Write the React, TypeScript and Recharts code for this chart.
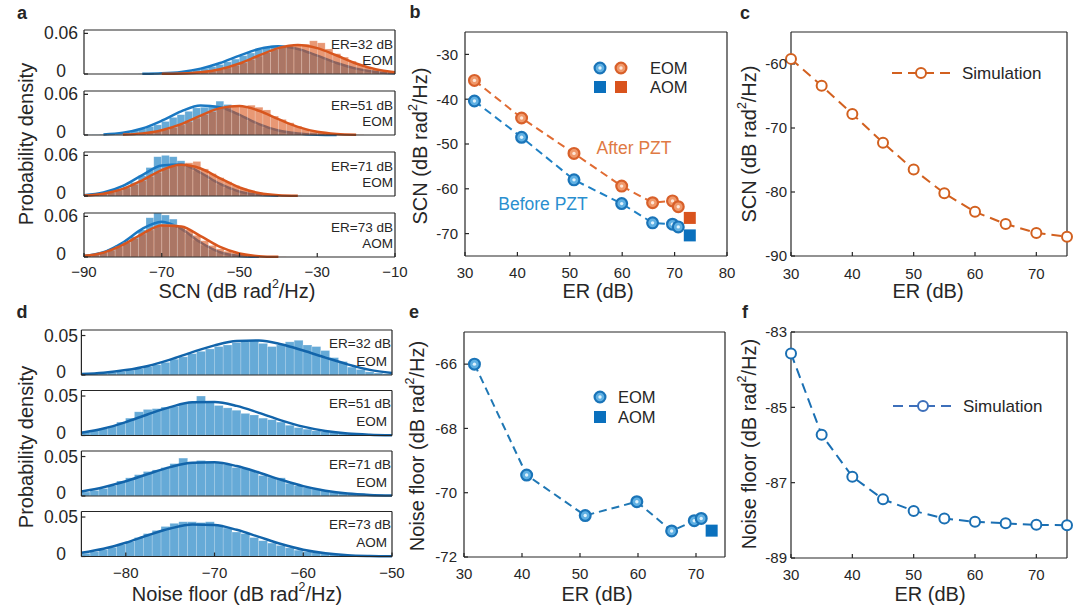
import React from "react";
import { Bar, ComposedChart, Line, Scatter, XAxis, YAxis } from "recharts";

const W = 1080;
const H = 616;
const FONT = "'Liberation Sans', Arial, Helvetica, sans-serif";
const INK = "#262626";
const BLUE = "#0072BD";
const ORANGE = "#D95319";

// ---- a: SCN histograms, probability density in units of 1e-3, 2 dB bins
const scnBins = [-89, -87, -85, -83, -81, -79, -77, -75, -73, -71, -69, -67, -65, -63, -61, -59, -57, -55, -53, -51, -49, -47, -45, -43, -41, -39, -37, -35, -33, -31, -29, -27, -25, -23, -21, -19, -17, -15, -13, -11];
const scnFitX = [-90, -85, -80, -75, -70, -65, -60, -55, -50, -45, -40, -35, -30, -25, -20, -15, -10];

const er32Before = [0, 0, 0, 0, 0, 0.1, 0.1, 0.3, 0.8, 1.2, 1.3, 2, 3, 4.4, 6, 8.5, 11, 14, 18, 22, 27, 31, 36, 40, 42, 41, 39, 37, 33, 29, 25, 21, 16, 12, 9, 6.5, 4.5, 3, 2, 1.2];
const er32After = [0, 0, 0, 0, 0, 0, 0, 0, 0, 0.1, 0.2, 0.4, 0.8, 1.2, 2, 3.1, 4.5, 6.5, 9, 12.5, 16.5, 21.5, 26.5, 31.5, 36, 40, 43, 43.5, 44, 49, 46, 37, 30, 25, 19, 14, 10, 6.5, 4, 2.5];
const er51Before = [0.3, 0.5, 0.9, 1.6, 2.6, 4.2, 6.3, 9, 12.5, 15, 20, 26, 30, 35, 40, 41, 44, 50, 45, 33, 27, 21, 16, 11.5, 8, 5.3, 3.4, 2.1, 1.2, 0.7, 0.3, 0.15, 0, 0, 0, 0, 0, 0, 0, 0];
const er51After = [0, 0, 0.1, 0.3, 0.5, 0.9, 1.5, 2.4, 3.6, 5.5, 8, 11, 15, 19.5, 25, 30, 34.5, 39, 42, 43, 42.5, 44, 41, 37, 28, 23, 18, 13, 9, 6, 4, 2.5, 1.5, 0.9, 0.5, 0.3, 0, 0, 0, 0];
const er71Before = [1.7, 3, 5, 8, 11, 14, 20, 30, 42, 58, 60, 58, 52, 43, 37, 31, 24, 17.5, 12.5, 8, 5, 3, 1.7, 0.9, 0.4, 0.2, 0, 0, 0, 0, 0, 0, 0, 0, 0, 0, 0, 0, 0, 0];
const er71After = [1.2, 2, 3.4, 5.5, 8.5, 12, 17, 22.5, 29, 35, 40, 44, 46, 49, 51, 40, 33, 27, 21, 15.5, 11, 7.5, 5, 3, 2, 1.5, 1.2, 0.2, 0, 0, 0, 0, 0, 0, 0, 0, 0, 0, 0, 0];
const er73Before = [2.1, 3.8, 7, 11.5, 17, 22, 30, 40, 58, 65, 62, 56, 42, 34, 25, 17.5, 11.5, 7, 3.8, 2.1, 0.9, 0.4, 0.2, 0, 0, 0, 0, 0, 0, 0, 0, 0, 0, 0, 0, 0, 0, 0, 0, 0];
const er73After = [2.3, 3.9, 6.5, 10, 15, 21, 27, 34, 40, 45, 48, 48, 46, 40, 32, 24, 17, 12, 8.5, 6, 4, 2.5, 1.5, 1, 0.5, 0.2, 0, 0, 0, 0, 0, 0, 0, 0, 0, 0, 0, 0, 0, 0];

const er32BeforeFit = [null, null, null, 0.25, 1, 3.1, 7.9, 16.2, 27.2, 37, 41, 37, 27.2, 16.2, 7.9, 3.1, 1];
const er32AfterFit = [null, null, null, null, 0.2, 0.7, 2.5, 7, 15.5, 27.3, 38.2, 43, 38.2, 27.3, 15.5, 7, 2.5];
const er51BeforeFit = [null, 0.9, 3.4, 9.7, 21.1, 34.9, 43.4, 41.1, 29.6, 16.1, 6.6, 2.1, 0.5, 0.1, null, null, null];
const er51AfterFit = [null, null, 0.64, 2.4, 7.1, 16.1, 28.7, 39.7, 42.8, 35.9, 23.5, 12, 4.7, 1.5, 0.35, null, null];
const er71BeforeFit = [1.2, 5.1, 14.9, 30.9, 45.1, 46.6, 34.3, 17.8, 6.5, 1.7, 0.3, null, null, null, null, null, null];
const er71AfterFit = [0.8, 3.4, 10.5, 23.2, 38.2, 46, 40.6, 26.2, 12.6, 4.4, 1.1, 0.2, null, null, null, null, null];
const er73BeforeFit = [1.5, 7, 21.4, 41.6, 52, 41.6, 21.4, 7, 1.5, 0.2, null, null, null, null, null, null, null];
const er73AfterFit = [1.7, 6.5, 17.8, 34.3, 46.7, 45.1, 30.9, 14.9, 5.1, 1.2, 0.2, null, null, null, null, null, null];

// ---- d: noise floor histograms, 1 dB bins
const nfBins = [-84.5, -83.5, -82.5, -81.5, -80.5, -79.5, -78.5, -77.5, -76.5, -75.5, -74.5, -73.5, -72.5, -71.5, -70.5, -69.5, -68.5, -67.5, -66.5, -65.5, -64.5, -63.5, -62.5, -61.5, -60.5, -59.5, -58.5, -57.5, -56.5, -55.5, -54.5, -53.5, -52.5, -51.5, -50.5];
const nfFitX = [-85, -82.5, -80, -77.5, -75, -72.5, -70, -67.5, -65, -62.5, -60, -57.5, -55, -52.5, -50];

const nf32 = [1.1, 1.6, 2.3, 3.3, 4.5, 6.1, 8.1, 10.5, 13, 16, 20, 23, 27, 30, 33, 36, 38, 41, 42, 44, 40, 36, 38, 42, 44, 38, 36, 31, 22, 17, 10, 7, 4, 2.5, 1.5];
const nf51 = [5, 6.5, 9, 12, 17, 22, 30, 33, 34, 36, 37, 40, 42, 50, 42, 38, 35, 32, 28, 26, 22, 20, 17, 13, 10, 8, 6, 5, 4, 3.5, 2.5, 1.5, 1, 0.6, 0.4];
const nf71 = [5, 7, 9.5, 13, 19, 23, 27, 31, 33, 36, 41, 48, 43, 45, 44, 42, 40, 36, 35, 32, 26, 24, 23, 16, 13, 11, 9, 7, 5, 4, 3.5, 3, 2, 1.5, 1];
const nf73 = [4, 6, 8.5, 11.5, 15, 19, 24, 29, 33, 38, 42, 44, 44, 43, 44, 40, 36, 31, 29, 24, 20, 17, 14, 11, 8, 6, 5, 3.5, 3, 2.5, 1.5, 1, 0.6, 0.4, 0.2];

const nf32Fit = [1.2, 2.8, 6.2, 11.5, 19.5, 29, 37.5, 43, 43.6, 39, 31, 22, 13.5, 6.5, 2.5];
const nf51Fit = [3.6, 8.8, 17, 26.9, 35.9, 42, 42.5, 37.5, 28.7, 19.2, 11.2, 5.7, 2.5, 1, 0.3];
const nf71Fit = [5.8, 11.2, 18.7, 27.9, 36.6, 42.1, 42.6, 37.9, 29.7, 20.6, 12.5, 6.7, 3.1, 1.3, 0.5];
const nf73Fit = [4.7, 9.8, 17.4, 26.9, 35.4, 40.5, 39.9, 33.8, 24.9, 15.8, 8.6, 4.1, 1.6, 0.6, 0.2];

const erLabels = ["ER=32 dB", "ER=51 dB", "ER=71 dB", "ER=73 dB"];
const modLabels = ["EOM", "EOM", "EOM", "AOM"];

// ---- b: measured SCN vs ER
const erMeas = [31.8, 40.8, 50.8, 59.9, 65.8, 69.6, 70.7];
const scnBeforePzt = [-40.4, -48.5, -58.0, -63.3, -67.6, -67.9, -68.5];
const scnAfterPzt = [-35.8, -44.2, -52.1, -59.4, -63.1, -62.7, -64.0];
const erAom = [72.9];
const scnAomBefore = [-70.4];
const scnAomAfter = [-66.5];

// ---- e: measured noise floor vs ER
const erNoise = [31.8, 40.8, 50.9, 59.8, 65.8, 69.7, 70.9];
const noiseMeas = [-66.0, -69.45, -70.71, -70.28, -71.19, -70.87, -70.8];
const erNoiseAom = [72.7];
const noiseAom = [-71.18];

// ---- c, f: simulation
const erSim = [30, 35, 40, 45, 50, 55, 60, 65, 70, 75];
const scnSim = [-59.2, -63.4, -67.8, -72.3, -76.5, -80.2, -83.1, -85.0, -86.4, -87.0];
const noiseSim = [-83.57, -85.73, -86.84, -87.44, -87.75, -87.95, -88.04, -88.08, -88.12, -88.13];

const pts = (xs: number[], ys: (number | null)[]) => xs.map((x, i) => ({ x, y: ys[i] }));

const axisLine = { stroke: INK, strokeWidth: 1.2 };
const tickFont = { fontSize: 15, fill: INK, fontFamily: FONT };

type Box = { left: number; right: number; top: number; bottom: number };
// every axis is 1px thick, so the plot area lands exactly on the box
const marginOf = (b: Box) => ({ left: b.left - 1, right: W - b.right - 1, top: b.top - 1, bottom: H - b.bottom - 1 });
const minus = (v: number) => String(v).replace("-", "\u2212");

function frameAxes(o: {
  xDomain: [number, number];
  xTicks: number[];
  yDomain: [number, number];
  yTicks: number[];
  showX: boolean;
  xGap: number;
  yGap: number;
  xFmt?: (v: number) => string;
  yTick?: any;
  yKey?: string;
}) {
  return [
    <XAxis key="xb" xAxisId="x" type="number" dataKey="x" domain={o.xDomain} ticks={o.xTicks} interval={0} height={1}
      tickSize={-4} tickMargin={o.xGap} axisLine={axisLine} tickLine={axisLine} tick={o.showX ? tickFont : false}
      tickFormatter={o.xFmt} />,
    <XAxis key="xt" xAxisId="xt" orientation="top" type="number" domain={o.xDomain} allowDataOverflow ticks={o.xTicks}
      interval={0} height={1} tickSize={-4} axisLine={axisLine} tickLine={axisLine} tick={false} />,
    <YAxis key="yl" yAxisId="y" type="number" dataKey={o.yKey} domain={o.yDomain} ticks={o.yTicks} interval={0} width={1}
      tickSize={-4} tickMargin={o.yGap} axisLine={axisLine} tickLine={axisLine} tick={o.yTick ?? tickFont} />,
    <YAxis key="yr" yAxisId="yr" orientation="right" type="number" domain={o.yDomain} allowDataOverflow ticks={o.yTicks}
      interval={0} width={1} tickSize={-4} axisLine={axisLine} tickLine={axisLine} tick={false} />,
  ];
}

// full-width histogram bar centred on the bin
const binShape = (bw: number, fill: string, edge: number) => (s: any) =>
  s.height > 0 ? (
    <rect x={s.x + s.width / 2 - bw / 2} y={s.y} width={bw} height={s.height} fill={fill} fillOpacity={0.6}
      stroke="#ffffff" strokeOpacity={edge} strokeWidth={0.6} />
  ) : (
    <g />
  );

function HistPlot(p: {
  box: Box;
  xDomain: [number, number];
  xTicks: number[];
  showX: boolean;
  xGap: number;
  bins: number[];
  binWidth: number;
  yMax: number;
  yTop: number;
  before: number[];
  after?: number[];
  fitX: number[];
  beforeFit: (number | null)[];
  afterFit?: (number | null)[];
  beforeLine: string;
}) {
  const rows = p.bins.map((x, i) => ({ x, b: p.before[i], o: p.after ? p.after[i] : null }));
  const bw = ((p.box.right - p.box.left) / (p.xDomain[1] - p.xDomain[0])) * p.binWidth;
  const leftTick = (t: any) => (
    <text x={61} y={t.payload.value === 0 ? t.y - 3 : t.y} textAnchor="middle" dominantBaseline="central"
      fontSize={17.5} fill={INK} fontFamily={FONT}>
      {t.payload.value === 0 ? "0" : (t.payload.value / 1000).toFixed(2)}
    </text>
  );
  return (
    <div style={{ position: "absolute", left: 0, top: 0 }}>
      <ComposedChart width={W} height={H} data={rows} margin={marginOf(p.box)}>
        {frameAxes({
          xDomain: p.xDomain, xTicks: p.xTicks, yDomain: [0, p.yMax], yTicks: [0, p.yTop],
          showX: p.showX, xGap: p.xGap, yGap: 0, xFmt: minus, yTick: leftTick,
        })}
        <XAxis xAxisId="x2" type="number" dataKey="x" domain={p.xDomain} hide />
        <Bar xAxisId="x" yAxisId="y" dataKey="b" barSize={4} fill={BLUE} shape={binShape(bw, BLUE, 0.35)}
          isAnimationActive={false} zIndex={300} />
        <Line xAxisId="x" yAxisId="y" data={pts(p.fitX, p.beforeFit)} dataKey="y" type="monotone" stroke={p.beforeLine}
          strokeWidth={2.5} dot={false} isAnimationActive={false} zIndex={310} />
        {p.after && (
          <Bar xAxisId="x2" yAxisId="y" dataKey="o" barSize={4} fill={ORANGE} shape={binShape(bw, ORANGE, 0.3)}
            isAnimationActive={false} zIndex={320} />
        )}
        {p.afterFit && (
          <Line xAxisId="x" yAxisId="y" data={pts(p.fitX, p.afterFit)} dataKey="y" type="monotone" stroke="#D8561E"
            strokeWidth={2.5} dot={false} isAnimationActive={false} zIndex={400} />
        )}
      </ComposedChart>
    </div>
  );
}

function EomMarker({ cx, cy, ring, fill, glint }: { cx: number; cy: number; ring: string; fill: string; glint: string }) {
  return (
    <g>
      <circle cx={cx} cy={cy} r={5.4} fill={fill} stroke={ring} strokeWidth={2.2} />
      <circle cx={cx} cy={cy} r={1.7} fill={glint} />
    </g>
  );
}
const blueEom = { ring: "#1a74b8", fill: "#5fb0e3", glint: "#dff2fc" };
const orangeEom = { ring: "#d8602a", fill: "#f0996b", glint: "#fde6d8" };

const eomDot = (c: typeof blueEom) => (d: any) => <EomMarker key={d.index} cx={d.cx} cy={d.cy} {...c} />;
const openDot = (color: string) => (d: any) => (
  <circle key={d.index} cx={d.cx} cy={d.cy} r={5} fill="#ffffff" stroke={color} strokeWidth={2} />
);
const squareShape = (color: string) => (d: any) => (
  <rect x={d.cx - 6} y={d.cy - 6} width={12} height={12} fill={color} />
);

const aTops = [30, 91, 152, 213];
const dTops = [330, 390.5, 451, 511.5];
const scnSets = [
  { before: er32Before, after: er32After, beforeFit: er32BeforeFit, afterFit: er32AfterFit },
  { before: er51Before, after: er51After, beforeFit: er51BeforeFit, afterFit: er51AfterFit },
  { before: er71Before, after: er71After, beforeFit: er71BeforeFit, afterFit: er71AfterFit },
  { before: er73Before, after: er73After, beforeFit: er73BeforeFit, afterFit: er73AfterFit },
];
const nfSets = [
  { hist: nf32, fit: nf32Fit },
  { hist: nf51, fit: nf51Fit },
  { hist: nf71, fit: nf71Fit },
  { hist: nf73, fit: nf73Fit },
];

function Txt(p: {
  x: number; y: number; children: React.ReactNode; size?: number; anchor?: "start" | "middle" | "end";
  color?: string; rotate?: boolean; bold?: boolean;
}) {
  return (
    <text x={p.x} y={p.y} fontSize={p.size ?? 15} textAnchor={p.anchor ?? "middle"} dominantBaseline="central"
      fill={p.color ?? INK} fontFamily={FONT} fontWeight={p.bold ? 700 : 400}
      transform={p.rotate ? `rotate(-90 ${p.x} ${p.y})` : undefined}>
      {p.children}
    </text>
  );
}

const unit = (pre: string) => (
  <>
    {pre} (dB rad<tspan dy={-7} fontSize="0.62em">2</tspan>
    <tspan dy={7}>/Hz)</tspan>
  </>
);

export default function App() {
  return (
    <div style={{ position: "absolute", left: 0, top: 0, width: W, height: H, background: "#ffffff", overflow: "hidden" }}>
      {scnSets.map((s, i) => (
        <HistPlot key={"a" + i} box={{ left: 84, right: 395, top: aTops[i], bottom: aTops[i] + 44 }}
          xDomain={[-90, -10]} xTicks={[-90, -70, -50, -30, -10]} showX={i === 3} xGap={13.5}
          bins={scnBins} binWidth={2} yMax={65} yTop={60} before={s.before} after={s.after}
          fitX={scnFitX} beforeFit={s.beforeFit} afterFit={s.afterFit} beforeLine="#1a78c2" />
      ))}
      {nfSets.map((s, i) => (
        <HistPlot key={"d" + i} box={{ left: 81.4, right: 392, top: dTops[i], bottom: dTops[i] + 45 }}
          xDomain={[-85, -50]} xTicks={[-80, -70, -60, -50]} showX={i === 3} xGap={15}
          bins={nfBins} binWidth={1} yMax={57} yTop={50} before={s.hist}
          fitX={nfFitX} beforeFit={s.fit} beforeLine="#1264aa" />
      ))}

      {/* b */}
      <div style={{ position: "absolute", left: 0, top: 0 }}>
        <ComposedChart width={W} height={H} margin={marginOf({ left: 465, right: 727, top: 32, bottom: 256 })}>
          {frameAxes({
            xDomain: [30, 80], xTicks: [30, 40, 50, 60, 70, 80], yDomain: [-75, -25], yTicks: [-70, -60, -50, -40, -30],
            showX: true, xGap: 15, yGap: 11, yKey: "y",
          })}
          <Line xAxisId="x" yAxisId="y" data={pts(erMeas, scnBeforePzt)} dataKey="y" stroke="#1f80c4" strokeWidth={2}
            strokeDasharray="8 5" dot={eomDot(blueEom)} isAnimationActive={false} />
          <Line xAxisId="x" yAxisId="y" data={pts(erMeas, scnAfterPzt)} dataKey="y" stroke="#e06b32" strokeWidth={2}
            strokeDasharray="8 5" dot={eomDot(orangeEom)} isAnimationActive={false} />
          <Scatter xAxisId="x" yAxisId="y" data={pts(erAom, scnAomBefore)} dataKey="y" shape={squareShape("#0a70bd")}
            isAnimationActive={false} />
          <Scatter xAxisId="x" yAxisId="y" data={pts(erAom, scnAomAfter)} dataKey="y" shape={squareShape("#d9531d")}
            isAnimationActive={false} />
        </ComposedChart>
      </div>

      {/* c */}
      <div style={{ position: "absolute", left: 0, top: 0 }}>
        <ComposedChart width={W} height={H} margin={marginOf({ left: 791, right: 1067, top: 32, bottom: 256 })}>
          {frameAxes({
            xDomain: [30, 75], xTicks: [30, 40, 50, 60, 70], yDomain: [-90, -55], yTicks: [-90, -80, -70, -60],
            showX: true, xGap: 16, yGap: 8, yKey: "y",
          })}
          <Line xAxisId="x" yAxisId="y" data={pts(erSim, scnSim)} dataKey="y" stroke="#d2601f" strokeWidth={2}
            strokeDasharray="10 6" dot={openDot("#d2601f")} isAnimationActive={false} />
        </ComposedChart>
      </div>

      {/* e */}
      <div style={{ position: "absolute", left: 0, top: 0 }}>
        <ComposedChart width={W} height={H} margin={marginOf({ left: 464, right: 725, top: 332, bottom: 557 })}>
          {frameAxes({
            xDomain: [30, 75], xTicks: [30, 40, 50, 60, 70], yDomain: [-72, -65], yTicks: [-72, -70, -68, -66],
            showX: true, xGap: 15.5, yGap: 11, yKey: "y",
          })}
          <Line xAxisId="x" yAxisId="y" data={pts(erNoise, noiseMeas)} dataKey="y" stroke="#1f77b4" strokeWidth={2}
            strokeDasharray="8 5" dot={eomDot(blueEom)} isAnimationActive={false} />
          <Scatter xAxisId="x" yAxisId="y" data={pts(erNoiseAom, noiseAom)} dataKey="y" shape={squareShape("#0a70bd")}
            isAnimationActive={false} />
        </ComposedChart>
      </div>

      {/* f */}
      <div style={{ position: "absolute", left: 0, top: 0 }}>
        <ComposedChart width={W} height={H} margin={marginOf({ left: 791, right: 1067, top: 332, bottom: 558 })}>
          {frameAxes({
            xDomain: [30, 75], xTicks: [30, 40, 50, 60, 70], yDomain: [-89, -83], yTicks: [-89, -87, -85, -83],
            showX: true, xGap: 15.5, yGap: 8, yKey: "y",
          })}
          <Line xAxisId="x" yAxisId="y" data={pts(erSim, noiseSim)} dataKey="y" stroke="#1a6fb3" strokeWidth={2}
            strokeDasharray="10 6" dot={openDot("#1a6fb3")} isAnimationActive={false} />
        </ComposedChart>
      </div>

      {/* text, legends */}
      <svg width={W} height={H} style={{ position: "absolute", left: 0, top: 0, pointerEvents: "none" }}>
        <Txt x={22} y={13} size={18} bold>a</Txt>
        <Txt x={415} y={12} size={18} bold>b</Txt>
        <Txt x={745} y={13} size={18} bold>c</Txt>
        <Txt x={22} y={312} size={18} bold>d</Txt>
        <Txt x={414} y={312} size={18} bold>e</Txt>
        <Txt x={745} y={312} size={18} bold>f</Txt>

        {aTops.map((t, i) => (
          <g key={"al" + i}>
            <Txt x={393} y={t + 14} size={13.5} anchor="end">{erLabels[i]}</Txt>
            <Txt x={393} y={t + 30} size={13.5} anchor="end">{modLabels[i]}</Txt>
          </g>
        ))}
        {dTops.map((t, i) => (
          <g key={"dl" + i}>
            <Txt x={391} y={t + 13} size={13.5} anchor="end">{erLabels[i]}</Txt>
            <Txt x={387} y={t + 31} size={13.5} anchor="end">{modLabels[i]}</Txt>
          </g>
        ))}

        <Txt x={26} y={144} size={20} rotate>Probability density</Txt>
        <Txt x={26} y={447} size={20} rotate>Probability density</Txt>
        <Txt x={237} y={291} size={20}>{unit("SCN")}</Txt>
        <Txt x={237} y={594} size={20}>{unit("Noise floor")}</Txt>

        <Txt x={420} y={146} size={20} rotate>{unit("SCN")}</Txt>
        <Txt x={598} y={291} size={20}>ER (dB)</Txt>
        <Txt x={749} y={144} size={20} rotate>{unit("SCN")}</Txt>
        <Txt x={928} y={291} size={20}>ER (dB)</Txt>
        <Txt x={417} y={446} size={20} rotate>{unit("Noise floor")}</Txt>
        <Txt x={597} y={594} size={20}>ER (dB)</Txt>
        <Txt x={749} y={444} size={20} rotate>{unit("Noise floor")}</Txt>
        <Txt x={930} y={594} size={20}>ER (dB)</Txt>

        {/* b legend and notes */}
        <EomMarker cx={600} cy={68} {...blueEom} />
        <EomMarker cx={621} cy={68} {...orangeEom} />
        <rect x={594} y={81} width={12} height={12} fill="#0a70bd" />
        <rect x={615} y={81} width={12} height={12} fill="#d9531d" />
        <Txt x={650} y={68} size={16.5} anchor="start">EOM</Txt>
        <Txt x={650} y={87} size={16.5} anchor="start">AOM</Txt>
        <Txt x={634} y={148} size={17.5} color="#e07a44">After PZT</Txt>
        <Txt x={543} y={204} size={17.5} color="#2a8fcf">Before PZT</Txt>

        {/* c legend */}
        <line x1={892} x2={950} y1={73} y2={73} stroke="#d2601f" strokeWidth={2} strokeDasharray="10 6" />
        <circle cx={921} cy={73} r={5} fill="#ffffff" stroke="#d2601f" strokeWidth={2} />
        <Txt x={962} y={73} size={17} anchor="start">Simulation</Txt>

        {/* e legend */}
        <EomMarker cx={600} cy={397} {...blueEom} />
        <rect x={594} y={411} width={12} height={12} fill="#0a70bd" />
        <Txt x={618} y={397} size={16.5} anchor="start">EOM</Txt>
        <Txt x={618} y={417} size={16.5} anchor="start">AOM</Txt>

        {/* f legend */}
        <line x1={893} x2={953} y1={406} y2={406} stroke="#3d6fba" strokeWidth={2} strokeDasharray="10 6" />
        <circle cx={923} cy={406} r={5} fill="#ffffff" stroke="#3d6fba" strokeWidth={2} />
        <Txt x={963} y={406} size={17} anchor="start">Simulation</Txt>
      </svg>
    </div>
  );
}
